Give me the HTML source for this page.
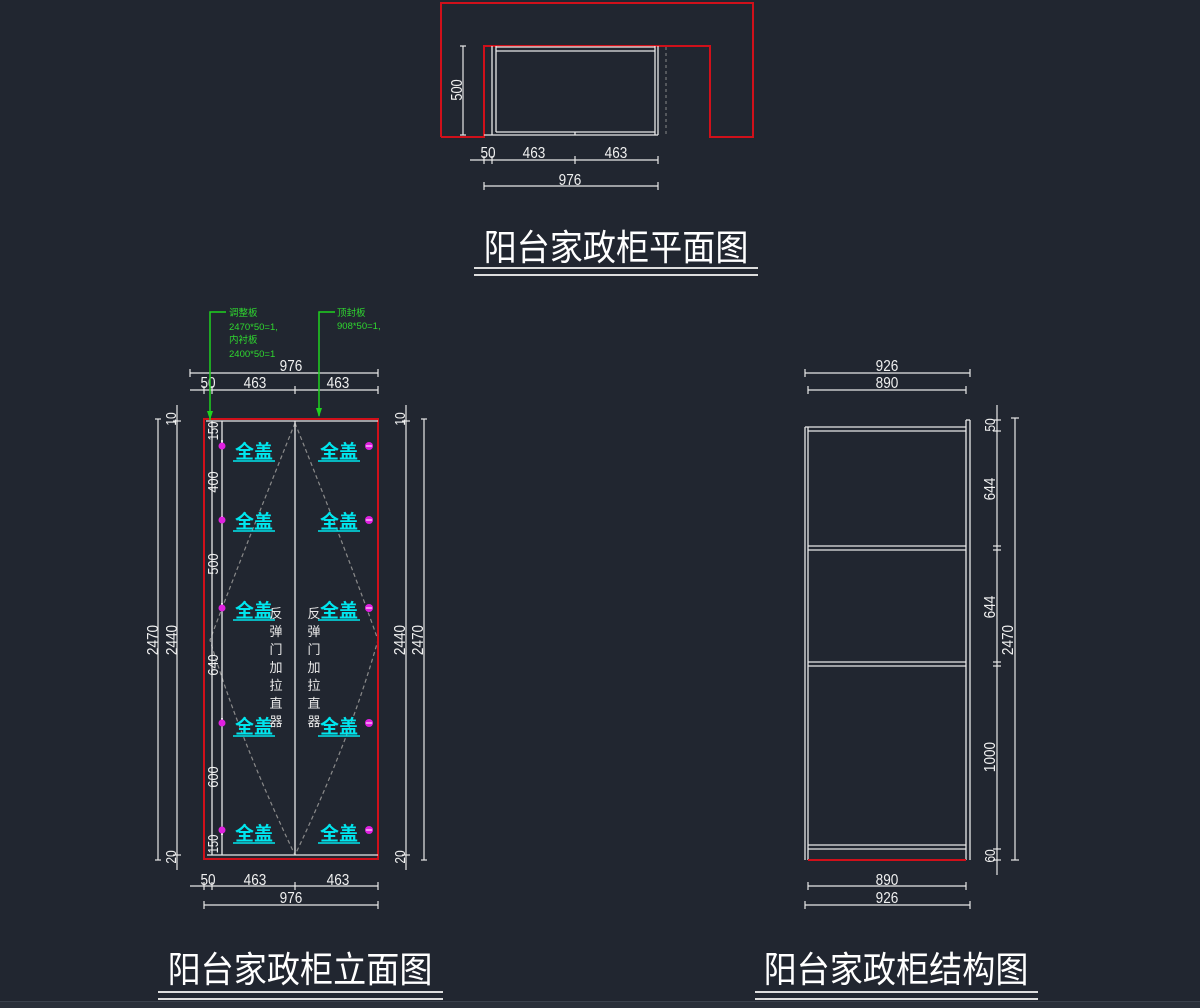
<!DOCTYPE html>
<html><head><meta charset="utf-8"><style>
html,body{margin:0;padding:0;background:#212630;}
svg{display:block}
text{font-family:"Liberation Sans","Noto Sans CJK SC",sans-serif;}
</style></head><body>
<svg width="1200" height="1008" viewBox="0 0 1200 1008" xmlns="http://www.w3.org/2000/svg">
<rect width="1200" height="1008" fill="#212630"/>
<rect x="0" y="1001" width="1200" height="7" fill="#2a303a"/>
<line x1="0" y1="1001.5" x2="1200" y2="1001.5" stroke="#3a414c"/>

<!-- ===== PLAN VIEW ===== -->
<polyline points="441,137 441,3 753,3 753,137 710,137 710,46 484,46 484,137 441,137" fill="none" stroke="#d0101a" stroke-width="2"/>
<g stroke="#e8e8e8" stroke-width="1.3" fill="none">
<line x1="492" y1="46" x2="492" y2="135"/><line x1="496" y1="46" x2="496" y2="132"/>
<line x1="655" y1="46" x2="655" y2="135"/><line x1="658" y1="46" x2="658" y2="135"/>
<line x1="496" y1="47" x2="655" y2="47"/><line x1="496" y1="51" x2="655" y2="51"/>
<line x1="496" y1="132" x2="655" y2="132"/><line x1="484" y1="135" x2="658" y2="135"/>
<line x1="575" y1="132" x2="575" y2="135"/>
</g>
<line x1="666" y1="47" x2="666" y2="137" stroke="#888" stroke-dasharray="3,3"/>
<g stroke="#e8e8e8" stroke-width="1.2">
<line x1="463" y1="46" x2="463" y2="135"/><line x1="460" y1="46" x2="466" y2="46"/><line x1="460" y1="135" x2="466" y2="135"/>
<line x1="470" y1="160" x2="658" y2="160"/>
<line x1="484" y1="156" x2="484" y2="164"/><line x1="492" y1="156" x2="492" y2="164"/><line x1="575" y1="156" x2="575" y2="164"/><line x1="658" y1="156" x2="658" y2="164"/>
<line x1="484" y1="186" x2="658" y2="186"/><line x1="484" y1="182" x2="484" y2="190"/><line x1="658" y1="182" x2="658" y2="190"/>
</g>
<g fill="#f0f0f0" font-size="16" text-anchor="middle">
<text transform="translate(462,90) rotate(-90) scale(0.8,1)">500</text>
<text transform="translate(488,158) scale(0.85,1)">50</text>
<text transform="translate(534,158) scale(0.85,1)">463</text>
<text transform="translate(616,158) scale(0.85,1)">463</text>
<text transform="translate(570,185) scale(0.85,1)">976</text>
</g>
<text transform="translate(616,260) scale(0.92,1)" fill="#fff" font-size="36" text-anchor="middle">阳台家政柜平面图</text>
<line x1="474" y1="268" x2="758" y2="268" stroke="#ddd" stroke-width="2"/>
<line x1="474" y1="275" x2="758" y2="275" stroke="#ddd" stroke-width="2"/>

<!-- ===== ELEVATION ===== -->
<g stroke="#8a8a8a" stroke-width="1.2" stroke-dasharray="4,3" fill="none">
<path d="M295,423 Q240,560 210,640 Q240,740 295,855"/>
<path d="M295,423 Q350,560 378,640 Q350,740 295,855"/>
</g>
<rect x="204" y="419" width="174" height="440" fill="none" stroke="#d0101a" stroke-width="2"/>
<g stroke="#e8e8e8" stroke-width="1.3">
<line x1="206" y1="421" x2="378" y2="421"/>
<line x1="207" y1="855" x2="378" y2="855"/>
<line x1="212" y1="421" x2="212" y2="855"/>
<line x1="222" y1="421" x2="222" y2="855"/>
<line x1="295" y1="421" x2="295" y2="855"/>
</g>
<g stroke="#e8e8e8" stroke-width="2">
<line x1="222" y1="440" x2="222" y2="447"/><line x1="222" y1="516" x2="222" y2="523"/><line x1="222" y1="603" x2="222" y2="610"/><line x1="222" y1="718" x2="222" y2="725"/><line x1="222" y1="828" x2="222" y2="835"/>
</g>
<g fill="#f0f0f0" font-size="15" text-anchor="middle">
<text transform="translate(218,431) rotate(-90) scale(0.75,1)">150</text>
<text transform="translate(218,482) rotate(-90) scale(0.85,1)">400</text>
<text transform="translate(218,564) rotate(-90) scale(0.85,1)">500</text>
<text transform="translate(218,665) rotate(-90) scale(0.85,1)">640</text>
<text transform="translate(218,777) rotate(-90) scale(0.85,1)">600</text>
<text transform="translate(218,844) rotate(-90) scale(0.75,1)">150</text>
</g>
<g stroke="#e8e8e8" stroke-width="1.2">
<line x1="158" y1="419" x2="158" y2="860"/><line x1="155" y1="419" x2="161" y2="419"/><line x1="155" y1="860" x2="161" y2="860"/>
<line x1="177" y1="405" x2="177" y2="870"/><line x1="173" y1="421" x2="181" y2="421"/><line x1="173" y1="855" x2="181" y2="855"/>
<line x1="406" y1="405" x2="406" y2="870"/><line x1="402" y1="421" x2="410" y2="421"/><line x1="402" y1="855" x2="410" y2="855"/>
<line x1="424" y1="419" x2="424" y2="860"/><line x1="421" y1="419" x2="427" y2="419"/><line x1="421" y1="860" x2="427" y2="860"/>
</g>
<g fill="#f0f0f0" font-size="16" text-anchor="middle">
<text transform="translate(158,640) rotate(-90) scale(0.85,1)">2470</text>
<text transform="translate(177,640) rotate(-90) scale(0.85,1)">2440</text>
<text transform="translate(405,640) rotate(-90) scale(0.85,1)">2440</text>
<text transform="translate(423,640) rotate(-90) scale(0.85,1)">2470</text>
<text transform="translate(176,419) rotate(-90) scale(0.8,1)" font-size="15">10</text>
<text transform="translate(405,419) rotate(-90) scale(0.8,1)" font-size="15">10</text>
<text transform="translate(176,857) rotate(-90) scale(0.8,1)" font-size="15">20</text>
<text transform="translate(405,857) rotate(-90) scale(0.8,1)" font-size="15">20</text>
</g>
<g stroke="#e8e8e8" stroke-width="1.2">
<line x1="190" y1="373" x2="378" y2="373"/><line x1="190" y1="369" x2="190" y2="377" /><line x1="378" y1="369" x2="378" y2="377"/>
<line x1="190" y1="390" x2="378" y2="390"/><line x1="204" y1="386" x2="204" y2="394"/><line x1="212" y1="386" x2="212" y2="394"/><line x1="295" y1="386" x2="295" y2="394"/><line x1="378" y1="386" x2="378" y2="394"/>
<line x1="190" y1="886" x2="378" y2="886"/><line x1="204" y1="882" x2="204" y2="890"/><line x1="212" y1="882" x2="212" y2="890"/><line x1="295" y1="882" x2="295" y2="890"/><line x1="378" y1="882" x2="378" y2="890"/>
<line x1="204" y1="905" x2="378" y2="905"/><line x1="204" y1="901" x2="204" y2="909"/><line x1="378" y1="901" x2="378" y2="909"/>
</g>
<g fill="#f0f0f0" font-size="16" text-anchor="middle">
<text transform="translate(291,371) scale(0.85,1)">976</text>
<text transform="translate(208,388) scale(0.85,1)">50</text>
<text transform="translate(255,388) scale(0.85,1)">463</text>
<text transform="translate(338,388) scale(0.85,1)">463</text>
<text transform="translate(208,885) scale(0.85,1)">50</text>
<text transform="translate(255,885) scale(0.85,1)">463</text>
<text transform="translate(338,885) scale(0.85,1)">463</text>
<text transform="translate(291,903) scale(0.85,1)">976</text>
</g>
<g stroke="#1fd21f" stroke-width="1.5" fill="none">
<polyline points="226,312 210,312 210,420"/>
<polyline points="335,312 319,312 319,416"/>
</g>
<polygon points="207,411 213,411 210,420" fill="#1fd21f"/>
<polygon points="316,408 322,408 319,417" fill="#1fd21f"/>
<g fill="#2fd82f" font-size="9.5">
<text x="229" y="316">调整板</text>
<text x="229" y="330">2470*50=1,</text>
<text x="229" y="343">内衬板</text>
<text x="229" y="357">2400*50=1</text>
<text x="337" y="316">顶封板</text>
<text x="337" y="329">908*50=1,</text>
</g>
<g fill="#00e6ee" font-size="19" font-weight="bold" text-anchor="middle">
<text x="254" y="458">全盖</text><text x="339" y="458">全盖</text>
<text x="254" y="528">全盖</text><text x="339" y="528">全盖</text>
<text x="254" y="617">全盖</text><text x="339" y="617">全盖</text>
<text x="254" y="733">全盖</text><text x="339" y="733">全盖</text>
<text x="254" y="840">全盖</text><text x="339" y="840">全盖</text>
</g>
<g stroke="#00e6ee" stroke-width="1.5">
<line x1="233" y1="461" x2="275" y2="461"/><line x1="318" y1="461" x2="360" y2="461"/>
<line x1="233" y1="531" x2="275" y2="531"/><line x1="318" y1="531" x2="360" y2="531"/>
<line x1="233" y1="620" x2="275" y2="620"/><line x1="318" y1="620" x2="360" y2="620"/>
<line x1="233" y1="736" x2="275" y2="736"/><line x1="318" y1="736" x2="360" y2="736"/>
<line x1="233" y1="843" x2="275" y2="843"/><line x1="318" y1="843" x2="360" y2="843"/>
</g>
<g fill="#e020e0">
<circle cx="222" cy="446" r="3.5"/><circle cx="222" cy="520" r="3.5"/><circle cx="222" cy="608" r="3.5"/><circle cx="222" cy="723" r="3.5"/><circle cx="222" cy="830" r="3.5"/>
<circle cx="369" cy="446" r="4"/><circle cx="369" cy="520" r="4"/><circle cx="369" cy="608" r="4"/><circle cx="369" cy="723" r="4"/><circle cx="369" cy="830" r="4"/>
</g>
<g stroke="#fff" stroke-width="1"><line x1="366" y1="446" x2="372" y2="446"/><line x1="366" y1="520" x2="372" y2="520"/><line x1="366" y1="608" x2="372" y2="608"/><line x1="366" y1="723" x2="372" y2="723"/><line x1="366" y1="830" x2="372" y2="830"/></g>
<g fill="#e8e8e8" font-size="13" text-anchor="middle">
<text x="276" y="618">反</text><text x="276" y="636">弹</text><text x="276" y="654">门</text><text x="276" y="672">加</text><text x="276" y="690">拉</text><text x="276" y="708">直</text><text x="276" y="726">器</text>
<text x="314" y="618">反</text><text x="314" y="636">弹</text><text x="314" y="654">门</text><text x="314" y="672">加</text><text x="314" y="690">拉</text><text x="314" y="708">直</text><text x="314" y="726">器</text>
</g>
<text transform="translate(300,982) scale(0.92,1)" fill="#fff" font-size="36" text-anchor="middle">阳台家政柜立面图</text>
<line x1="158" y1="992" x2="443" y2="992" stroke="#ddd" stroke-width="2"/>
<line x1="158" y1="999" x2="443" y2="999" stroke="#ddd" stroke-width="2"/>

<!-- ===== STRUCTURE ===== -->
<g stroke="#e8e8e8" stroke-width="1.3" fill="none">
<line x1="805" y1="427" x2="805" y2="860"/><line x1="808" y1="427" x2="808" y2="860"/>
<line x1="966" y1="420" x2="966" y2="860"/><line x1="970" y1="420" x2="970" y2="860"/>
<line x1="966" y1="420" x2="970" y2="420"/>
<line x1="805" y1="427" x2="966" y2="427"/><line x1="808" y1="431" x2="966" y2="431"/>
<line x1="808" y1="546" x2="966" y2="546"/><line x1="808" y1="550" x2="966" y2="550"/>
<line x1="808" y1="662" x2="966" y2="662"/><line x1="808" y1="666" x2="966" y2="666"/>
<line x1="808" y1="845" x2="966" y2="845"/><line x1="808" y1="849" x2="966" y2="849"/>
</g>
<line x1="808" y1="860" x2="966" y2="860" stroke="#d0101a" stroke-width="2"/>
<g stroke="#e8e8e8" stroke-width="1.2">
<line x1="805" y1="373" x2="970" y2="373"/><line x1="805" y1="369" x2="805" y2="377"/><line x1="970" y1="369" x2="970" y2="377"/>
<line x1="808" y1="390" x2="966" y2="390"/><line x1="808" y1="386" x2="808" y2="394"/><line x1="966" y1="386" x2="966" y2="394"/>
<line x1="808" y1="886" x2="966" y2="886"/><line x1="808" y1="882" x2="808" y2="890"/><line x1="966" y1="882" x2="966" y2="890"/>
<line x1="805" y1="905" x2="970" y2="905"/><line x1="805" y1="901" x2="805" y2="909"/><line x1="970" y1="901" x2="970" y2="909"/>
<line x1="997" y1="405" x2="997" y2="875"/>
<line x1="993" y1="420" x2="1001" y2="420"/><line x1="993" y1="431" x2="1001" y2="431"/><line x1="993" y1="546" x2="1001" y2="546"/><line x1="993" y1="550" x2="1001" y2="550"/><line x1="993" y1="662" x2="1001" y2="662"/><line x1="993" y1="666" x2="1001" y2="666"/><line x1="993" y1="849" x2="1001" y2="849"/><line x1="993" y1="860" x2="1001" y2="860"/>
<line x1="1015" y1="418" x2="1015" y2="860"/><line x1="1011" y1="418" x2="1019" y2="418"/><line x1="1011" y1="860" x2="1019" y2="860"/>
</g>
<g fill="#f0f0f0" font-size="16" text-anchor="middle">
<text transform="translate(887,371) scale(0.85,1)">926</text>
<text transform="translate(887,388) scale(0.85,1)">890</text>
<text transform="translate(887,885) scale(0.85,1)">890</text>
<text transform="translate(887,903) scale(0.85,1)">926</text>
<text transform="translate(995,425) rotate(-90) scale(0.8,1)" font-size="15">50</text>
<text transform="translate(995,489) rotate(-90) scale(0.85,1)">644</text>
<text transform="translate(995,607) rotate(-90) scale(0.85,1)">644</text>
<text transform="translate(995,757) rotate(-90) scale(0.85,1)">1000</text>
<text transform="translate(995,856) rotate(-90) scale(0.8,1)" font-size="15">60</text>
<text transform="translate(1013,640) rotate(-90) scale(0.85,1)">2470</text>
</g>
<text transform="translate(896,982) scale(0.92,1)" fill="#fff" font-size="36" text-anchor="middle">阳台家政柜结构图</text>
<line x1="755" y1="992" x2="1038" y2="992" stroke="#ddd" stroke-width="2"/>
<line x1="755" y1="999" x2="1038" y2="999" stroke="#ddd" stroke-width="2"/>
</svg>
</body></html>
